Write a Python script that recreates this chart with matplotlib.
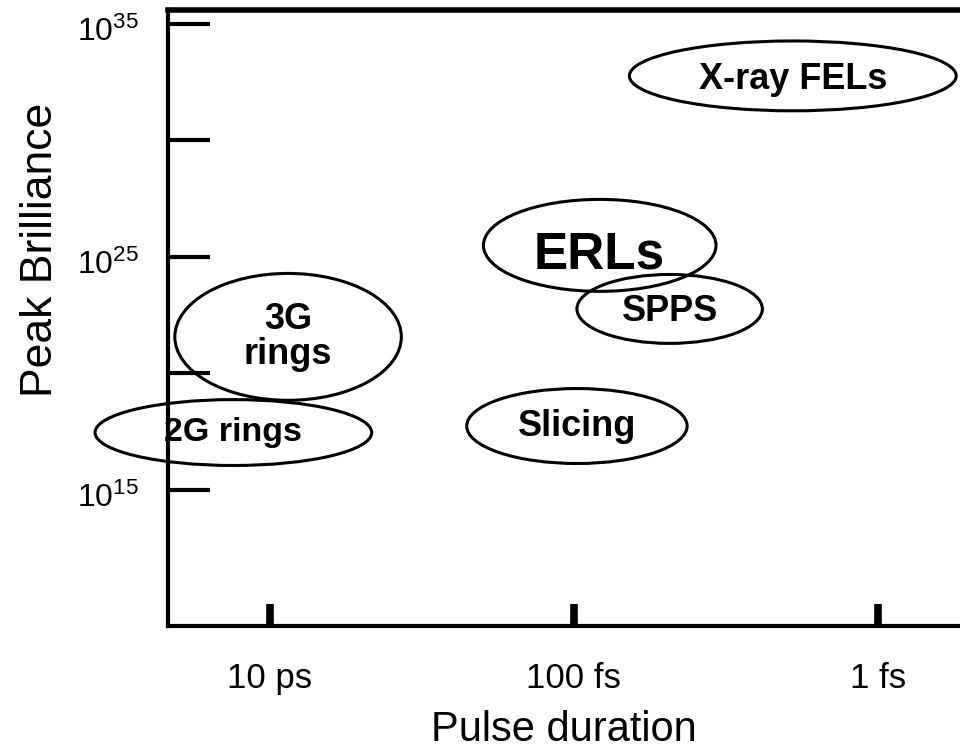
import matplotlib
matplotlib.use("Agg")
import matplotlib.pyplot as plt
from matplotlib.patches import Ellipse
from matplotlib.transforms import ScaledTranslation

plt.rcParams['font.family'] = ['Liberation Sans', 'DejaVu Sans']
plt.rcParams['mathtext.fontset'] = 'custom'
plt.rcParams['mathtext.rm'] = 'Liberation Sans'

# source regions, in log10 units: pulse duration [s] and peak brilliance
sources = ["X-ray FELs", "ERLs", "SPPS", "Slicing", "3G\nrings", "2G rings"]
log_tau = [-14.44, -13.17, -13.63, -13.02, -11.12, -10.76]
log_brill = [32.77, 25.49, 22.76, 17.73, 21.56, 17.45]
tau_span = [2.15, 1.53, 1.22, 1.45, 1.49, 1.82]
brill_span = [3.0, 3.95, 2.96, 3.22, 5.45, 2.83]

# text size and small vertical nudge (decades) for each label
label_size = [26, 37, 26, 26, 26, 24.5]
label_dy = [-0.15, -0.4, -0.1, 0.0, 0.0, 0.0]

tau_ticks = [-11, -13, -15]
tau_labels = ["10 ps", "100 fs", "1 fs"]
brill_major = [15, 25, 35]
brill_minor = [20, 30]

fig = plt.figure(figsize=(9.6, 7.51), dpi=100)
ax = fig.add_axes([168 / 960, 125 / 751, 1 - 168 / 960, 616 / 751])

ax.set_xlim(-10.33, -15.54)
ax.set_ylim(9.14, 35.6)

ax.spines['right'].set_visible(False)
ax.spines['left'].set_linewidth(3)
ax.spines['top'].set_linewidth(4)
ax.spines['bottom'].set_linewidth(3)

ax.set_xticks(tau_ticks)
ax.set_xticklabels(tau_labels)
ax.set_yticks(brill_major)
ax.set_yticklabels([r'$\mathregular{10^{%d}}$' % b for b in brill_major])
ax.set_yticks(brill_minor, minor=True)

ax.xaxis.set_ticks_position('bottom')
ax.yaxis.set_ticks_position('left')
ax.tick_params(axis='y', which='both', direction='in', length=30, width=3,
               pad=21, labelsize=23)
ax.tick_params(axis='x', direction='in', length=16, width=5.5, pad=26,
               labelsize=25)

# exponent labels sit a little below their ticks
shift = ScaledTranslation(0, -5 / 100, fig.dpi_scale_trans)
for lab in ax.get_yticklabels():
    lab.set_transform(lab.get_transform() + shift)

ax.set_xlabel("Pulse duration", fontsize=30, labelpad=11)
ax.set_ylabel("Peak Brilliance", fontsize=32)
ax.yaxis.set_label_coords(-0.135, 0.61)

for name, x, y, w, h, fs, dy in zip(sources, log_tau, log_brill, tau_span,
                                    brill_span, label_size, label_dy):
    ax.add_patch(Ellipse((x, y), w, h, fill=False, ec='black', lw=2.2,
                         clip_on=False, zorder=3))
    ax.text(x, y + dy, name, ha='center', va='center', fontsize=fs,
            fontweight='bold', linespacing=1.0, zorder=4)

fig.savefig("out.png", dpi=100)
